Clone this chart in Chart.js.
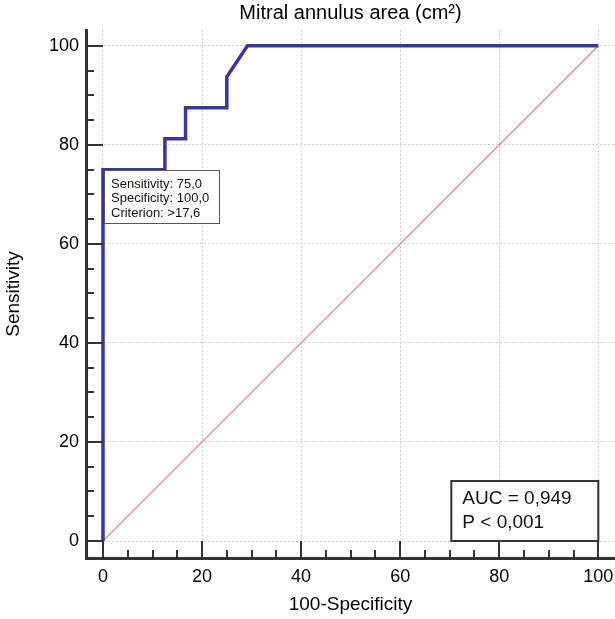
<!DOCTYPE html>
<html>
<head>
<meta charset="utf-8">
<script src="https://cdn.jsdelivr.net/npm/chart.js@4/dist/chart.umd.min.js"></script>
<style>
html,body{margin:0;padding:0;background:#fff;}
#wrap{width:615px;height:619px;position:relative;}
</style>
</head>
<body>
<div id="wrap"><canvas id="c" width="615" height="619"></canvas></div>
<script>
// ---- data ----
const fprValues = [0, 0, 12.5, 12.5, 16.67, 16.67, 25, 25, 29.17, 100];
const sensValues = [0, 75, 75, 81.25, 81.25, 87.5, 87.5, 93.75, 100, 100];
const refX = [0, 100];
const refY = [0, 100];
const tickValues = [0, 20, 40, 60, 80, 100];
const minorTickValues = [5, 10, 15, 25, 30, 35, 45, 50, 55, 65, 70, 75, 85, 90, 95];
const titleText = 'Mitral annulus area (cm²)';
const xTitle = '100-Specificity';
const yTitle = 'Sensitivity';
const criterionPoint = {x: 0, y: 75};
const criterionLines = ['Sensitivity: 75,0', 'Specificity: 100,0', 'Criterion: >17,6'];
const aucLines = ['AUC = 0,949', 'P < 0,001'];

const FONT = "'Liberation Sans', Arial, sans-serif";
Chart.defaults.font.family = FONT;
Chart.defaults.color = '#000';

const rocData = fprValues.map((v, i) => ({x: v, y: sensValues[i]}));
const refData = refX.map((v, i) => ({x: v, y: refY[i]}));

const decor = {
  id: 'decor',
  afterDatasetsDraw(chart) {
    const ctx = chart.ctx;
    const xs = chart.scales.x, ys = chart.scales.y;
    const ca = chart.chartArea;
    ctx.save();
    // tick marks
    ctx.strokeStyle = '#333';
    ctx.lineWidth = 2;
    ctx.beginPath();
    const x0 = xs.getPixelForValue(0);
    const y0 = ys.getPixelForValue(0);
    tickValues.forEach(v => {
      const py = Math.round(ys.getPixelForValue(v));
      ctx.moveTo(ca.left, py); ctx.lineTo(x0, py);
      const px = Math.round(xs.getPixelForValue(v));
      ctx.moveTo(px, ca.bottom); ctx.lineTo(px, y0);
    });
    minorTickValues.forEach(v => {
      const py = Math.round(ys.getPixelForValue(v));
      ctx.moveTo(ca.left, py); ctx.lineTo(ca.left + 8, py);
      const px = Math.round(xs.getPixelForValue(v));
      ctx.moveTo(px, ca.bottom); ctx.lineTo(px, ca.bottom - 8);
    });
    ctx.stroke();

    // criterion box
    const bx = Math.round(xs.getPixelForValue(criterionPoint.x)) + 1;
    const by = Math.round(ys.getPixelForValue(criterionPoint.y)) + 0.5;
    const bw = 115, bh = 53;
    ctx.fillStyle = '#fff';
    ctx.fillRect(bx, by, bw, bh);
    ctx.strokeStyle = '#555';
    ctx.lineWidth = 1;
    ctx.strokeRect(bx + 0.5, by, bw, bh);
    ctx.fillStyle = '#111';
    ctx.font = '13px ' + FONT;
    ctx.textBaseline = 'middle';
    ctx.textAlign = 'left';
    criterionLines.forEach((t, i) => ctx.fillText(t, bx + 7, by + 13.5 + i * 14.5));

    // AUC box
    const ax2 = xs.getPixelForValue(100);
    const ay2 = ys.getPixelForValue(0);
    const aw = 147, ah = 60;
    const ax = ax2 - aw, ay = ay2 - ah;
    ctx.fillStyle = '#fff';
    ctx.fillRect(ax, ay, aw, ah);
    ctx.strokeStyle = '#333';
    ctx.lineWidth = 2;
    ctx.strokeRect(ax, ay, aw, ah);
    ctx.fillStyle = '#111';
    ctx.font = '19px ' + FONT;
    aucLines.forEach((t, i) => ctx.fillText(t, ax + 11, ay + 18 + i * 24));
    ctx.restore();
  }
};

new Chart(document.getElementById('c'), {
  type: 'scatter',
  data: {
    datasets: [
      {
        data: rocData,
        showLine: true,
        borderColor: '#38389a',
        borderWidth: 3.5,
        pointRadius: 0,
        borderJoinStyle: 'miter',
        borderCapStyle: 'butt',
        tension: 0
      },
      {
        data: refData,
        showLine: true,
        borderColor: '#e09a9a',
        borderWidth: 1.5,
        pointRadius: 0,
        tension: 0
      }
    ]
  },
  options: {
    responsive: false,
    animation: false,
    layout: {padding: 0},
    plugins: {
      legend: {display: false},
      tooltip: {enabled: false},
      title: {
        display: true,
        text: titleText,
        fullSize: false,
        font: {size: 20, weight: 'normal'},
        color: '#000',
        padding: {top: 1, bottom: 5}
      }
    },
    scales: {
      x: {
        type: 'linear',
        min: -3.43,
        max: 103.37,
        afterBuildTicks: s => { s.ticks = tickValues.map(v => ({value: v})); },
        afterFit: s => { s.height = 61; s.paddingLeft = 0; s.paddingRight = 0; },
        grid: {color: '#d0d0d0', lineWidth: 1, drawTicks: false},
        border: {display: true, color: '#333', width: 3, dash: [2, 2]},
        ticks: {font: {size: 18}, color: '#000', padding: 8, maxRotation: 0},
        title: {display: true, text: xTitle, font: {size: 19}, color: '#000', padding: {top: 0, bottom: 2.6}}
      },
      y: {
        type: 'linear',
        min: -3.43,
        max: 103.2,
        afterBuildTicks: s => { s.ticks = tickValues.map(v => ({value: v})); },
        afterFit: s => { s.width = 86; s.paddingTop = 0; s.paddingBottom = 0; },
        grid: {color: '#d0d0d0', lineWidth: 1, drawTicks: false},
        border: {display: true, color: '#333', width: 3, dash: [2, 2]},
        ticks: {font: {size: 18}, color: '#000', padding: 7},
        title: {display: true, text: yTitle, font: {size: 19}, color: '#000', padding: {top: 2.3, bottom: 0}}
      }
    }
  },
  plugins: [decor]
});
</script>
</body>
</html>
